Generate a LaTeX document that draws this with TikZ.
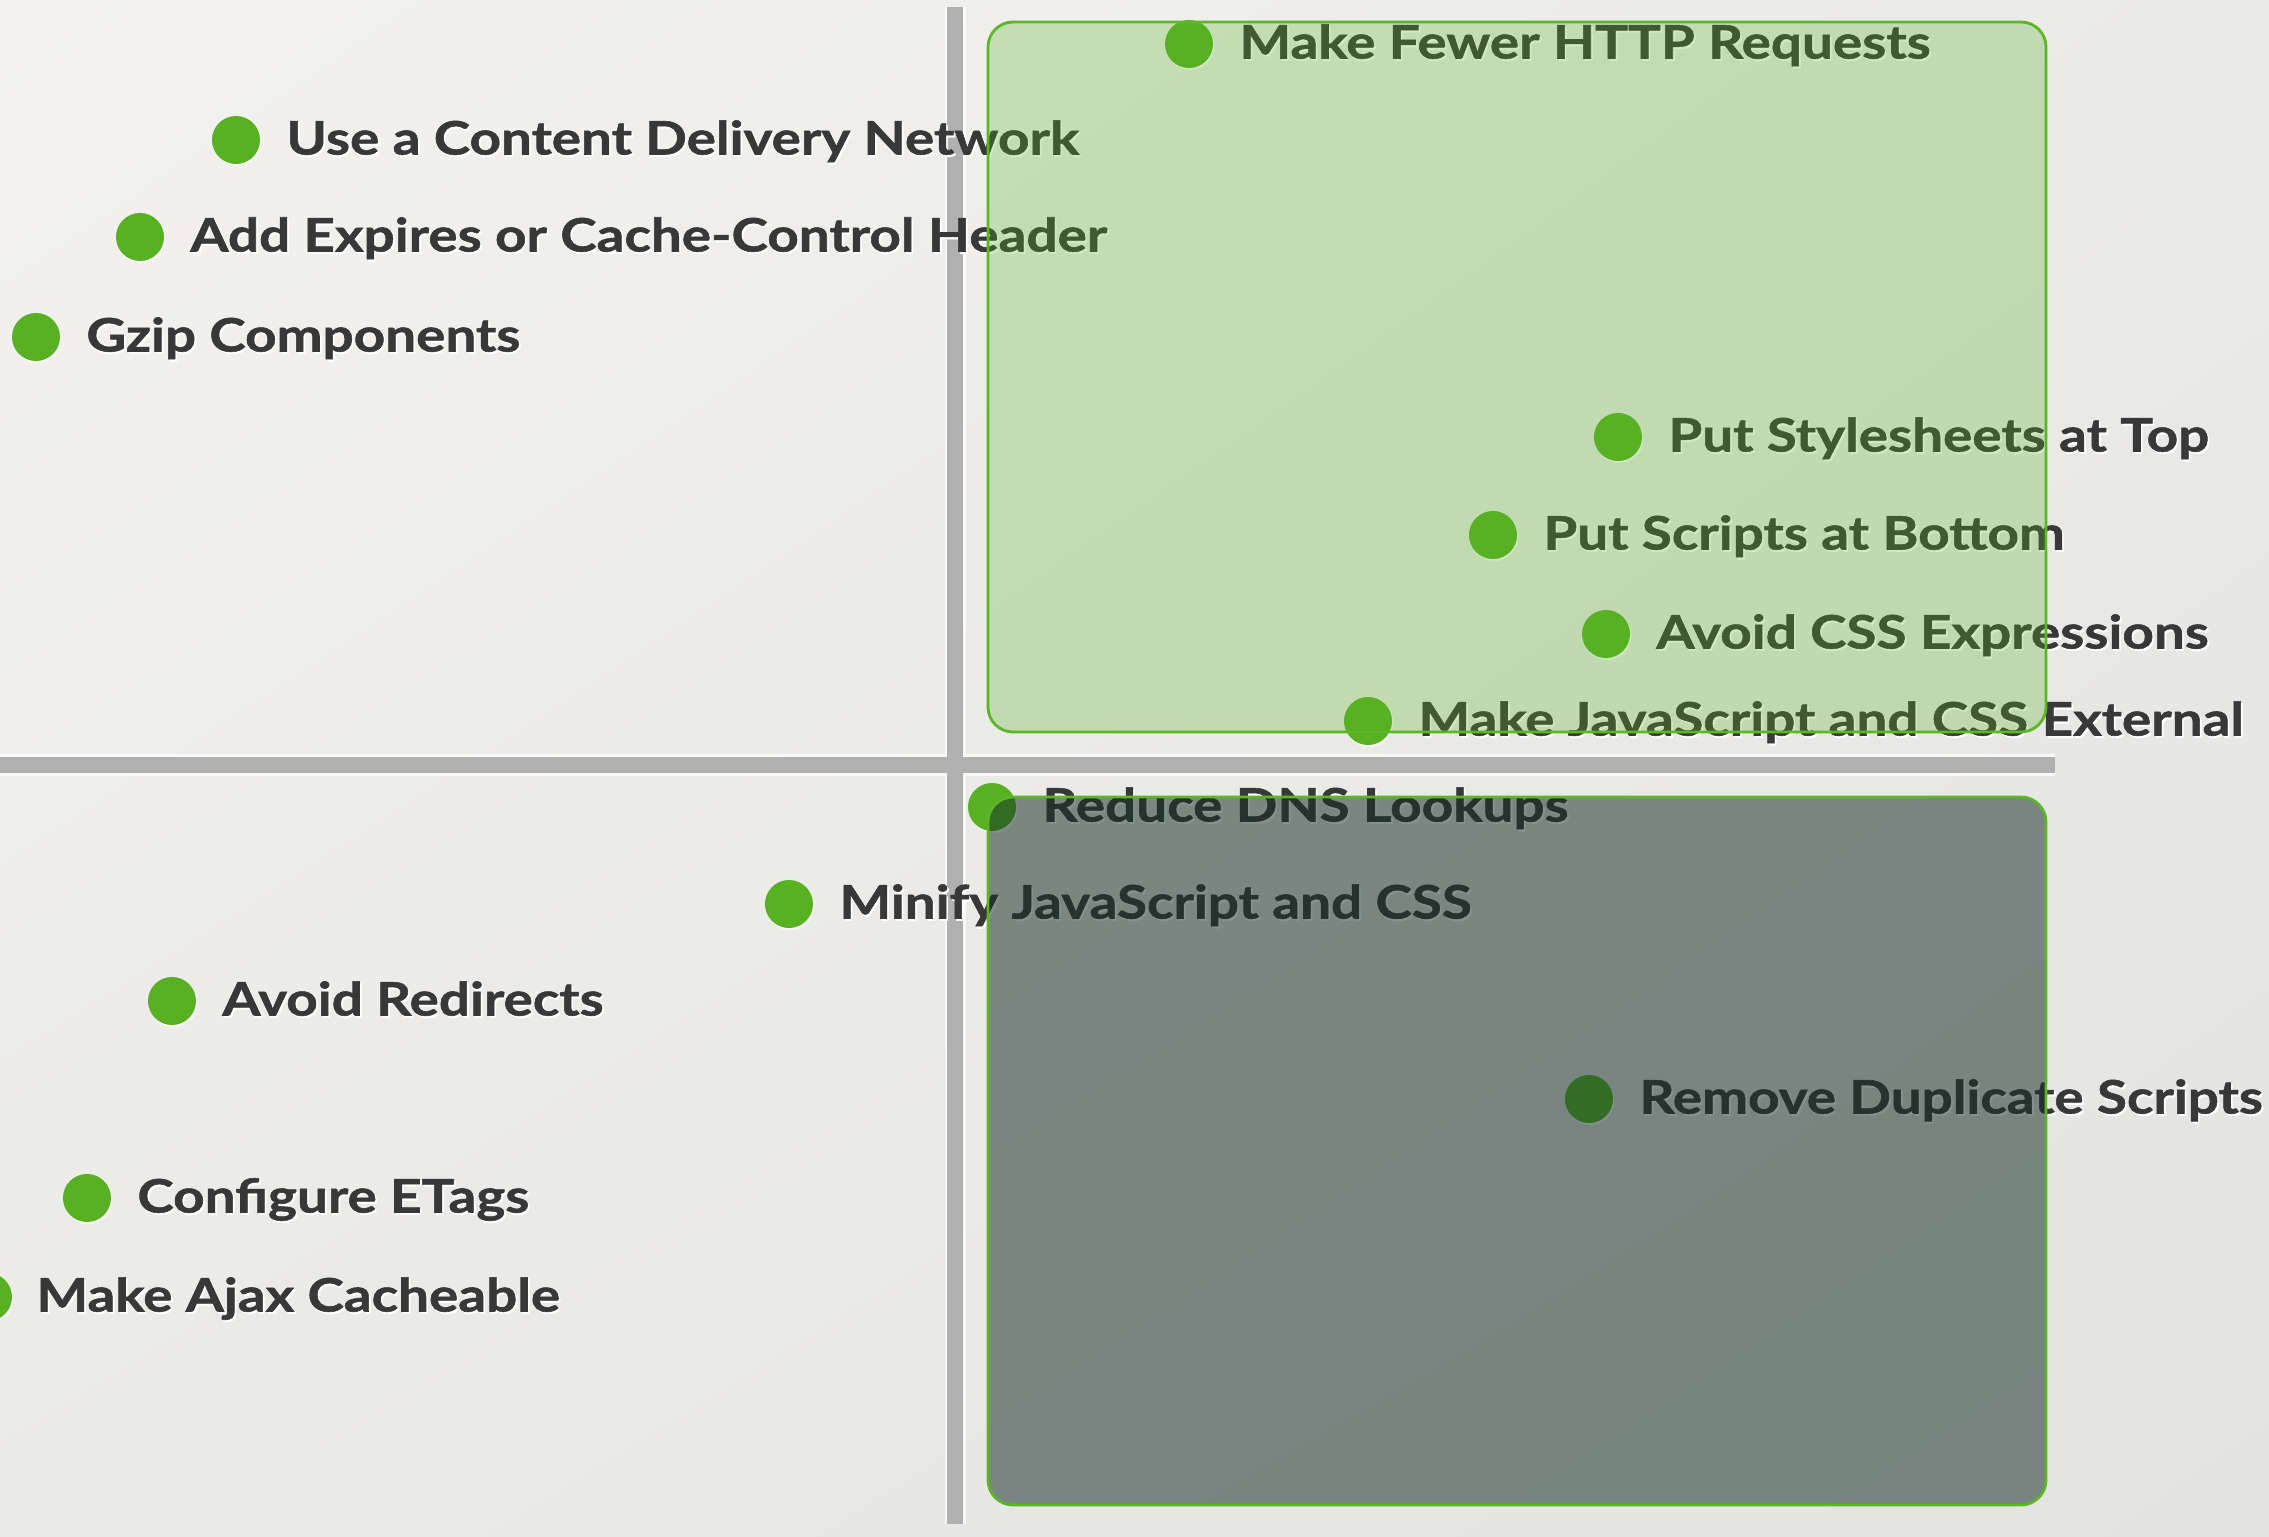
\documentclass[tikz,border=0pt]{standalone}
\usepackage{fontspec}
\setmainfont{Lato}[BoldFeatures={FakeStretch=1.19, FakeBold=1.2}]
\usetikzlibrary{positioning,shadows,shadings}

\definecolor{dotgreen}{RGB}{88,177,35}
\definecolor{edgegreen}{RGB}{92,182,40}
\definecolor{deepgreen}{RGB}{20,45,36}
\definecolor{labelgray}{RGB}{56,56,56}
\definecolor{axisgray}{RGB}{176,176,176}
\definecolor{bgA}{RGB}{243,242,239}
\definecolor{bgB}{RGB}{234,234,231}
\definecolor{bgC}{RGB}{227,227,226}

% white shadow under each label
\newcommand{\glow}[1]{\rlap{\kern0.5pt\raisebox{-0.6pt}{\color{white}#1}}#1}

\tikzset{
    dot/.style={circle, fill=dotgreen, minimum size=0.48cm, inner sep=0pt,
        drop shadow={shadow xshift=0.4pt, shadow yshift=-0.6pt, fill=white, opacity=0.8}},
    lbl/.style={inner sep=0pt, text height=0.33cm, text depth=0pt, text=labelgray,
        yshift=0.02cm, font=\bfseries\fontsize{13.1pt}{15pt}\selectfont},
    axis/.style={line width=0.16cm, axisgray,
        preaction={draw=white, line width=0.21cm, opacity=0.7}},
    quad/.style={draw=edgegreen, line width=0.8pt, rounded corners=0.25cm},
}

\begin{document}
\begin{tikzpicture}[x=0.01cm, y=-0.01cm]
    \useasboundingbox (0,0) rectangle (2269,1537);
    \shade[upper left=bgA, upper right=bgB, lower left=bgB, lower right=bgC]
        (0,0) rectangle (2269,1537);

    % Axes
    \coordinate (xl) at (0,765);
    \coordinate (xr) at (2055,765);
    \coordinate (yt) at (955,7);
    \coordinate (yb) at (955,1524);
    \draw[axis] (xl) -- (xr) (yt) -- (yb);

    % Upper half
    \node[dot] (fewer) at (1189,44) {};
    \node[lbl, right=0.25cm of fewer] (fewerT) {\glow{Make Fewer HTTP Requests}};
    \node[dot] (cdn) at (236,140) {};
    \node[lbl, right=0.25cm of cdn] (cdnT) {\glow{Use a Content Delivery Network}};
    \node[dot] (expires) at (140,237) {};
    \node[lbl, right=0.25cm of expires] (expiresT) {\glow{Add Expires or Cache-Control Header}};
    \node[dot] (gzip) at (36,337) {};
    \node[lbl, right=0.25cm of gzip] (gzipT) {\glow{Gzip Components}};
    \node[dot] (sheets) at (1618,437) {};
    \node[lbl, right=0.25cm of sheets] (sheetsT) {\glow{Put Stylesheets at Top}};
    \node[dot] (scripts) at (1493,535) {};
    \node[lbl, right=0.25cm of scripts] (scriptsT) {\glow{Put Scripts at Bottom}};
    \node[dot] (expr) at (1606,634) {};
    \node[lbl, right=0.25cm of expr] (exprT) {\glow{Avoid CSS Expressions}};
    \node[dot] (external) at (1368,721) {};
    \node[lbl, right=0.25cm of external] (externalT) {\glow{Make JavaScript and CSS External}};

    % Lower half
    \node[dot] (dns) at (992,807) {};
    \node[lbl, right=0.25cm of dns] (dnsT) {\glow{Reduce DNS Lookups}};
    \node[dot] (minify) at (789,904) {};
    \node[lbl, right=0.25cm of minify] (minifyT) {\glow{Minify JavaScript and CSS}};
    \node[dot] (redirects) at (172,1001) {};
    \node[lbl, right=0.25cm of redirects] (redirectsT) {\glow{Avoid Redirects}};
    \node[dot] (dupes) at (1589,1099) {};
    \node[lbl, right=0.25cm of dupes] (dupesT) {\glow{Remove Duplicate Scripts}};
    \node[dot] (etags) at (87,1198) {};
    \node[lbl, right=0.25cm of etags] (etagsT) {\glow{Configure ETags}};
    \node[dot] (ajax) at (-12,1297) {};
    \node[lbl, right=0.23cm of ajax] (ajaxT) {\glow{Make Ajax Cacheable}};

    % Quadrant boxes on top
    \draw[quad, fill=dotgreen, fill opacity=0.28] (988,22) rectangle (2046,732);
    \draw[quad, fill=deepgreen, fill opacity=0.52] (988,797) rectangle (2046,1505);
\end{tikzpicture}
\end{document}
